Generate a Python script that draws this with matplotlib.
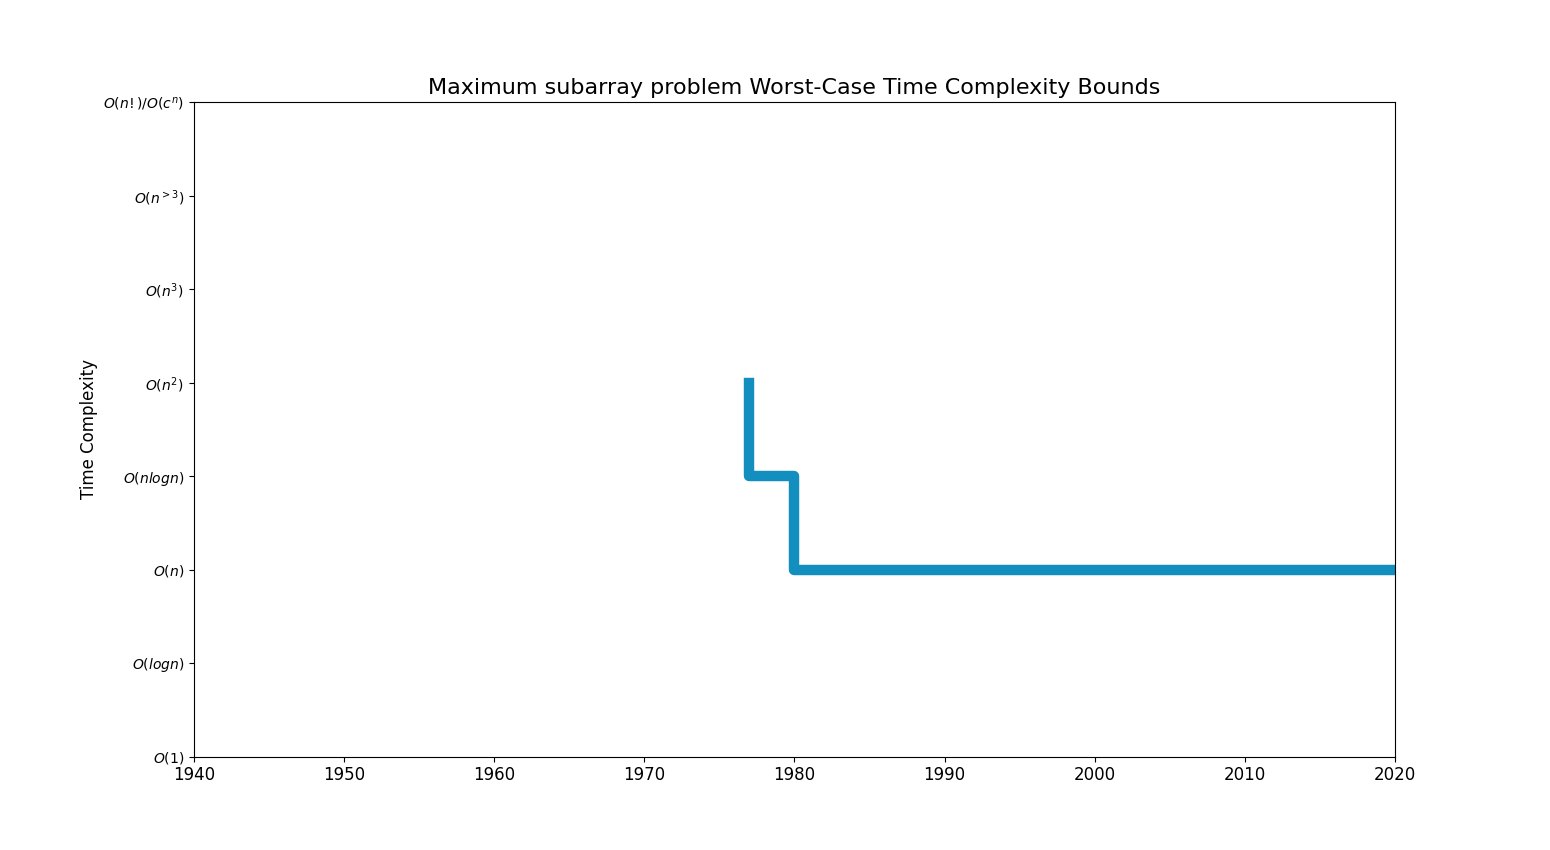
import matplotlib
matplotlib.use('Agg')
import matplotlib.pyplot as plt

# best known bound per year (index into complexity_labels, 0 = O(1))
years = [1977, 1977, 1980, 2020]
bounds = [4, 3, 2, 2]

complexity_labels = [r'$O(1)$', r'$O(logn)$', r'$O(n)$', r'$O(nlogn)$',
                     r'$O(n^2)$', r'$O(n^3)$', r'$O(n^{>3})$', r'$O(n!)/O(c^n)$']

fig, ax = plt.subplots(figsize=(15.5, 8.5), dpi=100)
ax.plot(years, bounds, drawstyle='steps-post', color='#138fbf', linewidth=7.5)

ax.set_xlim(1940, 2020)
ax.set_ylim(0, 7)
ax.set_yticks(range(len(complexity_labels)))
ax.set_yticklabels(complexity_labels, fontsize=10)
ax.tick_params(axis='x', labelsize=12)
ax.set_ylabel('Time Complexity', fontsize=12)
ax.set_title('Maximum subarray problem Worst-Case Time Complexity Bounds', fontsize=16)

fig.savefig('out.png', dpi=100)
